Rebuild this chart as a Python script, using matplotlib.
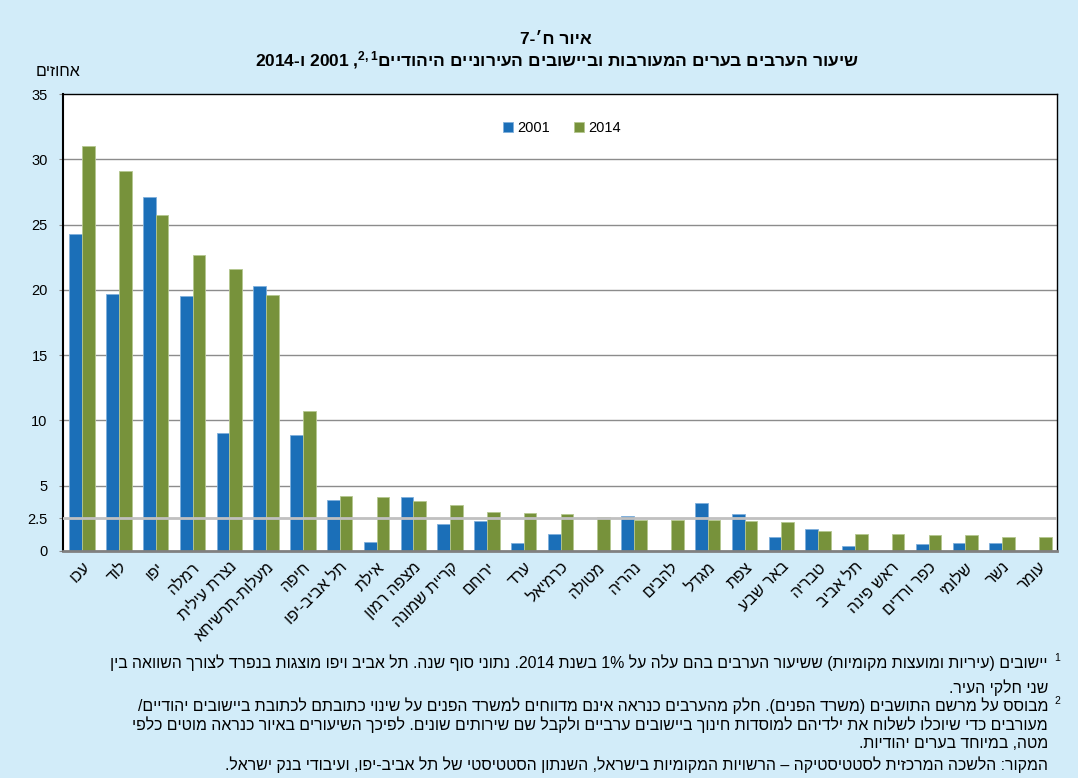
import re
import numpy as np
import matplotlib
matplotlib.use("Agg")
import matplotlib.pyplot as plt

plt.rcParams['font.family'] = ['Liberation Sans', 'DejaVu Sans']
plt.rcParams['mathtext.fontset'] = 'custom'
plt.rcParams['mathtext.rm'] = 'Liberation Sans'
plt.rcParams['mathtext.it'] = 'Liberation Sans'
plt.rcParams['mathtext.bf'] = 'Liberation Sans:bold'

# data
cities = ["עכו", "לוד", "יפו", "רמלה", "נצרת עילית", "מעלות-תרשיחא", "חיפה",
          "תל אביב-יפו", "אילת", "מצפה רמון", "קריית שמונה", "ירוחם", "ערד",
          "כרמיאל", "מטולה", "נהריה", "להבים", "מגדל", "צפת", "באר שבע",
          "טבריה", "תל אביב", "ראש פינה", "כפר ורדים", "שלומי", "נשר", "עומר"]
v2001 = [24.3, 19.7, 27.1, 19.5, 9.0, 20.3, 8.9, 3.9, 0.7, 4.1, 2.1, 2.3, 0.6,
         1.3, 0, 2.7, 0, 3.7, 2.8, 1.1, 1.7, 0.4, 0, 0.5, 0.6, 0.6, 0]
v2014 = [31.0, 29.1, 25.7, 22.7, 21.6, 19.6, 10.7, 4.2, 4.1, 3.8, 3.5, 3.0, 2.9,
         2.8, 2.6, 2.4, 2.4, 2.4, 2.3, 2.2, 1.5, 1.3, 1.3, 1.2, 1.2, 1.1, 1.1]
years = ["2001", "2014"]
yticks = [0, 2.5, 5, 10, 15, 20, 25, 30, 35]

MIRROR = {'(': ')', ')': '('}


def rtl(s):
    # crude bidi: reverse hebrew, keep number runs left-to-right
    r = ''.join(MIRROR.get(c, c) for c in s[::-1])
    return re.sub(r'%?\d+(?:[.,]\d+)*', lambda m: m.group(0)[::-1], r)


BG = '#D2ECF9'
BLUE = '#1B6FB8'
GREEN = '#77923B'

fig = plt.figure(figsize=(10.78, 7.78), dpi=100, facecolor=BG)
ax = fig.add_axes([63 / 1078, 1 - 551 / 778, 994 / 1078, 457 / 778])
ax.set_facecolor('white')

x = np.arange(len(cities))
w = 0.345
ax.bar(x - w / 2, v2001, w, color=BLUE, edgecolor='#7FB0DC', linewidth=0.6,
       label=years[0], zorder=2)
ax.bar(x + w / 2, v2014, w, color=GREEN, edgecolor='#B5C78F', linewidth=0.6,
       label=years[1], zorder=2)

for g in [5, 10, 15, 20, 25, 30]:
    ax.axhline(g, color='#8C8C8C', lw=1, zorder=1)
ax.axhline(2.5, color='#C0C0C0', lw=2, zorder=3)

ax.set_xlim(-0.52, len(cities) - 0.51)
ax.set_ylim(0, 35)
ax.set_yticks(yticks)
ax.set_yticklabels(['0', '2.5', '5', '10', '15', '20', '25', '30', '35'],
                   fontsize=10.5)
ax.tick_params(axis='y', length=3, color='#8C8C8C', pad=8)
ax.set_xticks(x)
ax.set_xticklabels([rtl(c) for c in cities], rotation=45, ha='right',
                   rotation_mode='anchor', fontsize=11.5)
ax.tick_params(axis='x', length=0, pad=6)

for s in ['left', 'top', 'right']:
    ax.spines[s].set_color('black')
    ax.spines[s].set_linewidth(1)
ax.spines['left'].set_linewidth(1.5)
ax.spines['bottom'].set_color('#808080')
ax.spines['bottom'].set_linewidth(2)

ax.legend(loc='center', bbox_to_anchor=(562 / 1078, 1 - 128 / 778),
          bbox_transform=fig.transFigure, ncol=2, frameon=False, fontsize=10.5,
          handlelength=0.7, handleheight=0.7, handletextpad=0.3,
          columnspacing=1.6)

fig.text(58 / 1078, 1 - 72 / 778, rtl("אחוזים"), ha='center', va='center',
         fontsize=11.5)

# titles
fig.text(556 / 1078, 1 - 40 / 778, rtl("איור ח׳-7"), ha='center', va='center',
         fontsize=12.5, fontweight='bold')
title2 = (rtl("2001 ו-2014") + " ," + r"$^{\mathbf{2,1}}$" +
          rtl("שיעור הערבים בערים המעורבות וביישובים העירוניים היהודיים"))
fig.text(557 / 1078, 1 - 60 / 778, title2, ha='center', va='center',
         fontsize=12.5, fontweight='bold')

# footnotes
notes = [
    (663, "יישובים (עיריות ומועצות מקומיות) ששיעור הערבים בהם עלה על 1% בשנת 2014. נתוני סוף שנה. תל אביב ויפו מוצגות בנפרד לצורך השוואה בין", "1"),
    (688, "שני חלקי העיר.", None),
    (706, "מבוסס על מרשם התושבים (משרד הפנים). חלק מהערבים כנראה אינם מדווחים למשרד הפנים על שינוי כתובתם לכתובת ביישובים יהודיים/", "2"),
    (725, "מעורבים כדי שיוכלו לשלוח את ילדיהם למוסדות חינוך ביישובים ערביים ולקבל שם שירותים שונים. לפיכך השיעורים באיור כנראה מוטים כלפי", None),
    (744, "מטה, במיוחד בערים יהודיות.", None),
    (765, "המקור: הלשכה המרכזית לסטטיסטיקה – הרשויות המקומיות בישראל, השנתון הסטטיסטי של תל אביב-יפו, ועיבודי בנק ישראל.", None),
]
for yy, txt, mark in notes:
    fig.text(1048 / 1078, 1 - yy / 778, rtl(txt), ha='right', va='center',
             fontsize=11.4)
    if mark:
        fig.text(1057 / 1078, 1 - (yy - 5) / 778, mark, ha='center',
                 va='center', fontsize=7.5)

fig.savefig('out.png', dpi=100, facecolor=BG)
